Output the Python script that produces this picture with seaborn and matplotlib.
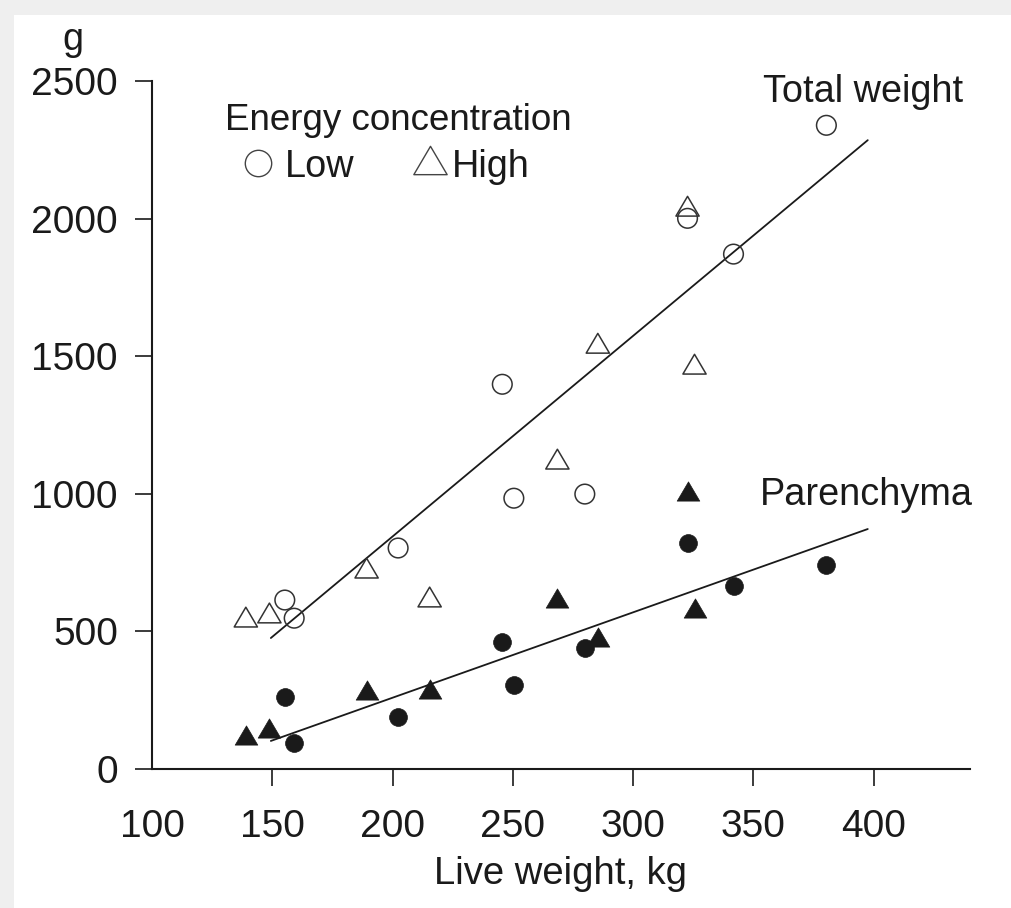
import numpy as np
import pandas as pd
import matplotlib
matplotlib.use("Agg")
import matplotlib.pyplot as plt
import seaborn as sns
from matplotlib.path import Path
from matplotlib.lines import Line2D
from matplotlib.patches import Rectangle

# ---- data ----
low_weight = [155.2, 159.1, 202.3, 245.6, 250.4, 279.9, 322.6, 341.7, 380.3]
low_total = [614, 548, 803, 1398, 984, 999, 2001, 1871, 2339]
low_parenchyma = [262, 94, 189, 461, 305, 440, 821, 665, 741]

high_weight = [139.0, 148.8, 189.2, 215.4, 268.5, 285.3, 322.6, 325.5]
high_total = [552, 567, 730, 625, 1126, 1547, 2045, 1471]
high_parenchyma = [124, 149, 287, 291, 621, 479, 1010, 585]

fit_weight = [149.4, 397.5]
fit_total = [476, 2285]
fit_parenchyma = [102, 872]

x_ticks = [100, 150, 200, 250, 300, 350, 400]
y_ticks = [0, 500, 1000, 1500, 2000, 2500]

# ---- style ----
sns.set_theme(style="white")
plt.rcParams["font.family"] = ["Liberation Sans", "DejaVu Sans"]
INK = "#1a1a1a"

W, H = 1011, 908
fig = plt.figure(figsize=(W / 100, H / 100), dpi=100)
fig.patch.set_facecolor("white")
# light gray scan border (top and left)
fig.patches.append(Rectangle((0, 1 - 15 / H), 1, 15 / H, transform=fig.transFigure,
                             facecolor="#efefef", edgecolor="none", zorder=0))
fig.patches.append(Rectangle((0, 0), 14 / W, 1, transform=fig.transFigure,
                             facecolor="#efefef", edgecolor="none", zorder=0))

ax = fig.add_axes([152 / W, (H - 769) / H, (970 - 152) / W, (769 - 81) / H])
ax.set_facecolor("none")

# custom, slightly flattened triangle marker
tri = Path([(0, 0.85), (-1, -0.85), (1, -0.85), (0, 0.85)],
           [Path.MOVETO, Path.LINETO, Path.LINETO, Path.CLOSEPOLY])

df_lt = pd.DataFrame({"w": low_weight, "g": low_total})
df_lp = pd.DataFrame({"w": low_weight, "g": low_parenchyma})
df_ht = pd.DataFrame({"w": high_weight, "g": high_total})
df_hp = pd.DataFrame({"w": high_weight, "g": high_parenchyma})
df_ft = pd.DataFrame({"w": fit_weight, "g": fit_total})
df_fp = pd.DataFrame({"w": fit_weight, "g": fit_parenchyma})

sns.lineplot(data=df_ft, x="w", y="g", ax=ax, color=INK, lw=1.3, zorder=2)
sns.lineplot(data=df_fp, x="w", y="g", ax=ax, color=INK, lw=1.3, zorder=2)

sns.scatterplot(data=df_lt, x="w", y="g", ax=ax, marker="o", s=200,
                facecolor="none", edgecolor="#333333", linewidth=1.1, zorder=3)
sns.scatterplot(data=df_ht, x="w", y="g", ax=ax, marker=tri, s=280,
                facecolor="none", edgecolor="#333333", linewidth=1.1, zorder=3)
sns.scatterplot(data=df_lp, x="w", y="g", ax=ax, marker="o", s=165,
                color=INK, edgecolor=INK, linewidth=0.5, zorder=3)
sns.scatterplot(data=df_hp, x="w", y="g", ax=ax, marker=tri, s=265,
                color=INK, edgecolor=INK, linewidth=0.5, zorder=3)

ax.set_xlim(100, 440)
ax.set_ylim(0, 2500)
ax.set_xticks(x_ticks)
ax.set_yticks(y_ticks)
ax.set_xticklabels([str(v) for v in x_ticks])
ax.set_yticklabels([str(v) for v in y_ticks])

for s in ["top", "right"]:
    ax.spines[s].set_visible(False)
for s in ["left", "bottom"]:
    ax.spines[s].set_color(INK)
    ax.spines[s].set_linewidth(1.5)

ax.tick_params(axis="both", which="major", direction="out", length=12.5, width=1.2,
               color=INK, labelcolor=INK, labelsize=28)
ax.tick_params(axis="y", pad=12, left=True)
ax.tick_params(axis="x", pad=16, bottom=True)
ax.xaxis.get_major_ticks()[0].tick1line.set_visible(False)

ax.set_xlabel("Live weight, kg", fontsize=27.5, color=INK, labelpad=8)
ax.set_ylabel("")
ax.grid(False)

def fx(px):
    return px / W

def fy(py):
    return 1 - py / H

fs = 27.3
fig.text(fx(73), fy(50), "g", fontsize=fs, color=INK, ha="center", va="baseline")
fig.text(fx(225), fy(130), "Energy concentration", fontsize=26.5, color=INK,
         ha="left", va="baseline")
fig.text(fx(285), fy(177), "Low", fontsize=fs, color=INK, ha="left", va="baseline")
fig.text(fx(452), fy(177), "High", fontsize=fs, color=INK, ha="left", va="baseline")
fig.text(fx(763), fy(102), "Total weight", fontsize=fs, color=INK, ha="left", va="baseline")
fig.text(fx(760), fy(505), "Parenchyma", fontsize=fs, color=INK, ha="left", va="baseline")

# legend key symbols
fig.add_artist(Line2D([fx(258)], [fy(163)], transform=fig.transFigure, marker="o",
                      markersize=19, mfc="none", mec="#444444", mew=1.0, ls="none"))
fig.add_artist(Line2D([fx(430)], [fy(160)], transform=fig.transFigure, marker=tri,
                      markersize=24, mfc="none", mec="#444444", mew=1.0, ls="none"))

fig.savefig("out.png", dpi=100, facecolor=fig.get_facecolor())
